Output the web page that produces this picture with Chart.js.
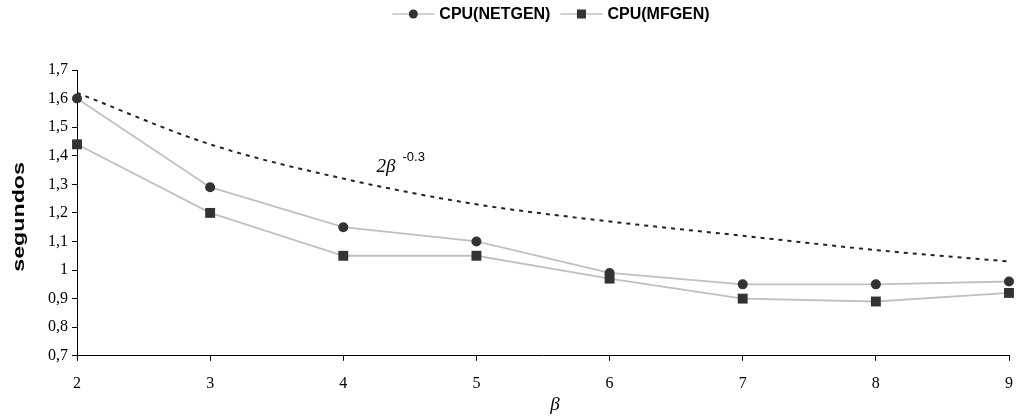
<!DOCTYPE html>
<html>
<head>
<meta charset="utf-8">
<script src="https://cdn.jsdelivr.net/npm/chart.js@4.4.0/dist/chart.umd.min.js"></script>
<style>
  html, body { margin: 0; padding: 0; background: #fff; }
  #wrap { width: 1023px; height: 416px; position: relative; }
</style>
</head>
<body>
<div id="wrap"><canvas id="cpuChart"></canvas></div>
<script>
// values
const betaValues = [2, 3, 4, 5, 6, 7, 8, 9];
const cpuNetgen = [1.60, 1.29, 1.15, 1.10, 0.99, 0.95, 0.95, 0.96];
const cpuMfgen = [1.44, 1.20, 1.05, 1.05, 0.97, 0.90, 0.89, 0.92];
const boundCurve = [1.62, 1.44, 1.32, 1.23, 1.17, 1.12, 1.07, 1.03];
const seriesNames = ['CPU(NETGEN)', 'CPU(MFGEN)'];
const boundLabel = { base: '2\u03B2', exp: '-0.3', x: 4.25, y: 1.342 };
const xTitle = '\u03B2';
const yTitle = 'segundos';
const yMin = 0.7, yMax = 1.7, yStep = 0.1;

function toPoints(ys) {
  return betaValues.map((b, i) => ({ x: b, y: ys[i] }));
}

function commaLabel(v) {
  return String(Number(v.toFixed(1))).replace('.', ',');
}

// legend drawn as line - marker - line, like the original
const topLegend = {
  id: 'topLegend',
  afterDraw(chart) {
    const ctx = chart.ctx;
    const items = chart.data.datasets.filter(d => d.inLegend);
    ctx.save();
    ctx.font = 'bold 16px "Liberation Sans", Arial, sans-serif';
    const lineLen = 42, gap = 5, between = 10;
    const widths = items.map(d => lineLen + gap + ctx.measureText(d.label).width);
    const total = widths.reduce((a, b) => a + b, 0) + between * (items.length - 1);
    const area = chart.chartArea;
    let x = (area.left + area.right) / 2 + 8 - total / 2;
    const y = 14;
    items.forEach((d, i) => {
      ctx.strokeStyle = d.borderColor;
      ctx.lineWidth = 1.5;
      ctx.beginPath();
      ctx.moveTo(x, y);
      ctx.lineTo(x + lineLen, y);
      ctx.stroke();
      ctx.fillStyle = d.pointBackgroundColor;
      const cx = x + lineLen / 2;
      if (d.pointStyle === 'rect') {
        ctx.fillRect(cx - 4.5, y - 4.5, 9, 9);
      } else {
        ctx.beginPath();
        ctx.arc(cx, y, 4.5, 0, Math.PI * 2);
        ctx.fill();
      }
      ctx.fillStyle = '#000';
      ctx.textBaseline = 'middle';
      ctx.fillText(d.label, x + lineLen + gap, y + 1);
      x += widths[i] + between;
    });
    ctx.restore();
  }
};

// axis titles and the 2β^-0.3 label
const extraText = {
  id: 'extraText',
  afterDraw(chart) {
    const ctx = chart.ctx;
    const area = chart.chartArea;
    ctx.save();
    ctx.fillStyle = '#000';

    // y title, rotated and a bit stretched like the original
    ctx.save();
    ctx.translate(20, (area.top + area.bottom) / 2 + 4);
    ctx.rotate(-Math.PI / 2);
    ctx.scale(1.45, 1);
    ctx.font = 'bold 16px "Liberation Sans", Arial, sans-serif';
    ctx.textAlign = 'center';
    ctx.textBaseline = 'middle';
    ctx.fillText(yTitle, 0, 0);
    ctx.restore();

    // x title
    ctx.font = 'italic 19px "Liberation Serif", "Times New Roman", serif';
    ctx.textAlign = 'center';
    ctx.textBaseline = 'middle';
    ctx.fillText(xTitle, (area.left + area.right) / 2 + 12, 405);

    // curve label
    const px = chart.scales.x.getPixelForValue(boundLabel.x);
    const py = chart.scales.y.getPixelForValue(boundLabel.y);
    ctx.textAlign = 'left';
    ctx.textBaseline = 'alphabetic';
    ctx.font = 'italic 19px "Liberation Serif", "Times New Roman", serif';
    ctx.fillText(boundLabel.base, px, py);
    const w = ctx.measureText(boundLabel.base).width;
    ctx.font = '13px "Liberation Sans", Arial, sans-serif';
    ctx.fillText(boundLabel.exp, px + w + 7, py - 11);
    ctx.restore();
  }
};

const ctx = document.getElementById('cpuChart').getContext('2d');
new Chart(ctx, {
  type: 'line',
  data: {
    datasets: [
      {
        label: seriesNames[0],
        inLegend: true,
        data: toPoints(cpuNetgen),
        borderColor: '#c0c0c0',
        borderWidth: 1.8,
        pointStyle: 'circle',
        pointRadius: 5,
        pointBackgroundColor: '#333333',
        pointBorderColor: '#333333',
        pointBorderWidth: 0,
        tension: 0
      },
      {
        label: seriesNames[1],
        inLegend: true,
        data: toPoints(cpuMfgen),
        borderColor: '#c0c0c0',
        borderWidth: 1.8,
        pointStyle: 'rect',
        pointRadius: 7,
        pointBackgroundColor: '#333333',
        pointBorderColor: '#333333',
        pointBorderWidth: 0,
        tension: 0
      },
      {
        label: 'bound',
        inLegend: false,
        data: toPoints(boundCurve),
        borderColor: '#222222',
        borderWidth: 2,
        borderDash: [4, 5],
        pointRadius: 0,
        cubicInterpolationMode: 'monotone'
      }
    ]
  },
  options: {
    responsive: true,
    maintainAspectRatio: false,
    animation: false,
    clip: false,
    layout: { padding: { top: 70, right: 14, left: 44, bottom: 10 } },
    plugins: {
      legend: { display: false },
      tooltip: { enabled: false }
    },
    scales: {
      x: {
        type: 'linear',
        min: 2,
        max: 9,
        afterFit: scale => { scale.paddingRight = 4; },
        ticks: {
          stepSize: 1,
          color: '#000',
          padding: 13,
          font: { family: '"Liberation Serif", "Times New Roman", serif', size: 16 }
        },
        grid: { drawOnChartArea: false, drawTicks: true, tickLength: 5, color: '#000' },
        border: { display: true, color: '#000', width: 1 }
      },
      y: {
        min: yMin,
        max: yMax,
        ticks: {
          stepSize: yStep,
          color: '#000',
          padding: 4,
          callback: v => commaLabel(v),
          font: { family: '"Liberation Serif", "Times New Roman", serif', size: 16 }
        },
        grid: { drawOnChartArea: false, drawTicks: true, tickLength: 5, color: '#000' },
        border: { display: true, color: '#000', width: 1 }
      }
    }
  },
  plugins: [topLegend, extraText]
});
</script>
</body>
</html>
